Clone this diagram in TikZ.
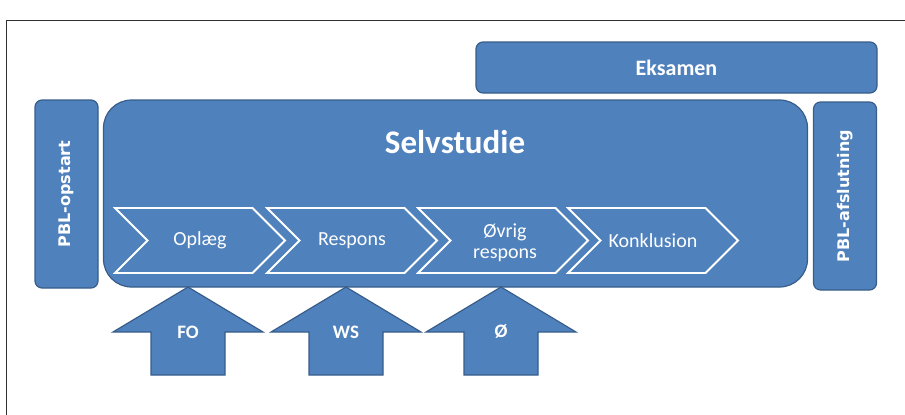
\documentclass[tikz,border=0pt]{standalone}
\usepackage{fontspec}
\setmainfont{Carlito}
\newfontfamily\verdfont{DejaVu Sans}
\usepackage{tikz}
\usetikzlibrary{shapes.symbols}
\definecolor{officeBlue}{HTML}{4F81BD}
\definecolor{officeEdge}{HTML}{385D8A}
\definecolor{frameGray}{HTML}{303030}

\begin{document}
\begin{tikzpicture}[x=1pt, y=-1pt,
  box/.style={draw=officeEdge, line width=1.2pt, fill=officeBlue, rounded corners=7pt, text=white, inner sep=0pt},
  sidelbl/.style={text=white, font=\verdfont\bfseries\fontsize{16}{18}\selectfont, rotate=90},
  chev/.style={signal, signal from=west, signal to=east, signal pointer angle=90, draw=white, line width=1.8pt, minimum width=170, minimum height=65, inner sep=0pt, text=white, align=center, font=\fontsize{20}{21}\selectfont},
  uparrow/.style={draw=officeEdge, line width=1.2pt, fill=officeBlue, line join=miter},
  arrowlbl/.style={text=white, font=\bfseries\fontsize{19}{22}\selectfont}
]
  \useasboundingbox (0,0) rectangle (905,415);
  % frame of the screenshot
  \coordinate (fr) at (6,20);
  \draw[frameGray, line width=1pt] (fr |- 0,415) -- (fr) -- (905,20);

  % boxes
  \node[box, minimum width=401, minimum height=51] (eksamen) at (676.5,67.5) {};
  \node[text=white, font=\bfseries\fontsize{22}{24}\selectfont] (eksamenlbl) at (eksamen) {Eksamen};
  \node[box, minimum width=63, minimum height=188] (opstart) at (66.5,194) {};
  \node[sidelbl] (opstartlbl) at (opstart) {PBL-opstart};
  \node[box, minimum width=63, minimum height=188] (afslut) at (845,196) {};
  \node[sidelbl] (afslutlbl) at (afslut) {PBL-afslutning};
  \node[box, rounded corners=28pt, minimum width=704, minimum height=187] (selv) at (455.5,193.5) {};
  \node[text=white, font=\bfseries\fontsize{33}{36}\selectfont] (selvlbl) at (455,142) {Selvstudie};

  % process steps
  \node[chev] (oplaeg) at (200,240.5) {Opl\ae g};
  \node[chev] (respons) at (352,240.5) {Respons};
  \node[chev] (oevrig) at (503,240.5) {};
  \node[text=white, align=center, font=\fontsize{20}{21}\selectfont] (oevriglbl) at (505,243) {Øvrig\\respons};
  \node[chev] (konkl) at (653,240.5) {Konklusion};

  % inputs from below
  \foreach \x/\txt/\name in {188/FO/fo, 346/WS/ws, 501/Ø/oe} {
    \draw[uparrow] (\x,287) -- ++(75,45) -- ++(-38,0) -- ++(0,43) -- ++(-74,0) -- ++(0,-43) -- ++(-38,0) -- cycle;
    \node[arrowlbl] (\name) at (\x,332) {\txt};
  }
\end{tikzpicture}
\end{document}
